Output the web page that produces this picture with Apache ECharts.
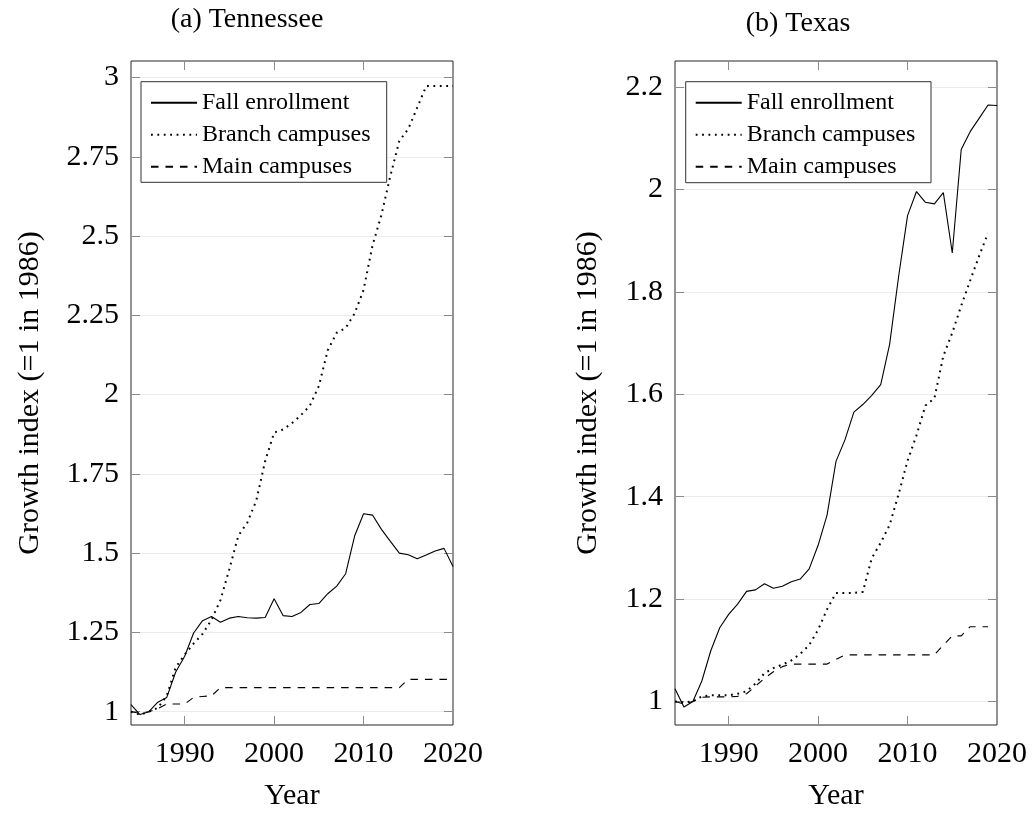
<!DOCTYPE html>
<html>
<head>
<meta charset="utf-8">
<script src="https://cdn.jsdelivr.net/npm/echarts@6/dist/echarts.min.js"></script>
<style>
html,body{margin:0;padding:0;background:#fff;}
#chart{width:1032px;height:816px;}
</style>
</head>
<body>
<div id="chart"></div>
<script>
const years = [1984,1985,1986,1987,1988,1989,1990,1991,1992,1993,1994,1995,1996,1997,1998,1999,2000,2001,2002,2003,2004,2005,2006,2007,2008,2009,2010,2011,2012,2013,2014,2015,2016,2017,2018,2019,2020];

const seriesNames = ['Fall enrollment', 'Branch campuses', 'Main campuses'];
const panelTitles = ['(a) Tennessee', '(b) Texas'];
const xAxisTitle = 'Year';
const yAxisTitle = 'Growth index (=1 in 1986)';

const tnFall   = [1.022,0.991,1.0,1.030,1.045,1.125,1.175,1.248,1.287,1.300,1.282,1.295,1.300,1.296,1.295,1.297,1.356,1.303,1.300,1.313,1.338,1.341,1.372,1.396,1.435,1.554,1.624,1.620,1.575,1.537,1.500,1.495,1.482,1.494,1.507,1.515,1.458];
const tnBranch = [1.0,0.99,1.0,1.012,1.05,1.14,1.18,1.215,1.245,1.29,1.352,1.45,1.555,1.596,1.665,1.79,1.88,1.89,1.91,1.935,1.965,2.027,2.14,2.195,2.21,2.256,2.33,2.47,2.567,2.69,2.80,2.838,2.905,2.973,2.973,2.973,2.973];
const tnMain   = [1.0,0.995,1.0,1.01,1.024,1.024,1.024,1.045,1.048,1.05,1.076,1.076,1.076,1.076,1.076,1.076,1.076,1.076,1.076,1.076,1.076,1.076,1.076,1.076,1.076,1.076,1.076,1.076,1.076,1.076,1.076,1.102,1.102,1.102,1.102,1.102,1.102];

const txFall   = [1.025,0.989,1.0,1.04,1.099,1.144,1.17,1.19,1.215,1.218,1.23,1.221,1.225,1.234,1.239,1.259,1.305,1.364,1.469,1.511,1.565,1.580,1.598,1.619,1.698,1.83,1.949,1.996,1.975,1.972,1.994,1.876,2.078,2.113,2.139,2.165,2.164];
const txBranch = [1.0,0.998,1.0,1.01,1.012,1.012,1.012,1.015,1.02,1.035,1.055,1.065,1.072,1.08,1.093,1.11,1.14,1.18,1.212,1.212,1.212,1.214,1.28,1.31,1.345,1.405,1.47,1.52,1.578,1.592,1.675,1.72,1.773,1.822,1.87,1.915,null];
const txMain   = [1.0,0.995,1.0,1.008,1.009,1.009,1.009,1.01,1.015,1.03,1.045,1.058,1.068,1.073,1.073,1.073,1.073,1.073,1.082,1.091,1.091,1.091,1.091,1.091,1.091,1.091,1.091,1.091,1.091,1.091,1.11,1.128,1.128,1.146,1.146,1.146,null];

const xTicks  = [1990,2000,2010,2020];
const tnTicks = [1,1.25,1.5,1.75,2,2.25,2.5,2.75,3];
const txTicks = [1,1.2,1.4,1.6,1.8,2,2.2];

const FONT = '"Liberation Serif", "Times New Roman", serif';
const pair = arr => years.map((y,i) => [y, arr[i]]);

const grids = [
  {left:131, top:61, width:322, height:672},
  {left:675, top:61, width:322, height:672}
];
const yRanges = [[0.958,3.052],[0.954,2.251]];
const yTickSets = [tnTicks, txTicks];
const yNameGaps = [86, 72];

const tickStyle = {show:true, inside:true, length:9, lineStyle:{color:'#8c8c8c', width:1}};

const xAxes = [], yAxes = [];
grids.forEach((g, gi) => {
  xAxes.push({
    gridIndex: gi, type:'value', min:1984, max:2020, position:'bottom',
    axisLine:{show:false},
    axisTick:Object.assign({customValues:xTicks}, tickStyle),
    axisLabel:{customValues:xTicks, formatter:v=>String(v), fontSize:30, fontFamily:FONT, color:'#000', margin:14, lineHeight:30},
    splitLine:{show:false},
    name:xAxisTitle, nameLocation:'middle', nameGap:56,
    nameTextStyle:{fontSize:30, fontFamily:FONT, color:'#000', lineHeight:30}
  });
  xAxes.push({
    gridIndex: gi, type:'value', min:1984, max:2020, position:'top',
    axisLine:{show:false},
    axisTick:Object.assign({customValues:xTicks}, tickStyle),
    axisLabel:{show:false}, splitLine:{show:false}
  });
  const yt = yTickSets[gi];
  yAxes.push({
    gridIndex: gi, type:'value', min:yRanges[gi][0], max:yRanges[gi][1], position:'left',
    axisLine:{show:false},
    axisTick:Object.assign({customValues:yt}, tickStyle),
    axisLabel:{customValues:yt, formatter:v=>String(v), fontSize:30, fontFamily:FONT, color:'#000', margin:12},
    splitLine:{show:true, lineStyle:{color:'#ebebeb', width:1}},
    name:yAxisTitle, nameLocation:'middle', nameGap:yNameGaps[gi], nameRotate:90,
    nameTextStyle:{fontSize:30, fontFamily:FONT, color:'#000', lineHeight:30}
  });
  yAxes.push({
    gridIndex: gi, type:'value', min:yRanges[gi][0], max:yRanges[gi][1], position:'right',
    axisLine:{show:false},
    axisTick:Object.assign({customValues:yt}, tickStyle),
    axisLabel:{show:false}, splitLine:{show:false}
  });
});

const styles = [
  {color:'#000', width:1.1, type:'solid'},
  {color:'#000', width:2, type:[1.8,4.6], cap:'butt'},
  {color:'#000', width:1.1, type:[7.5,7]}
];

const panelData = [[tnFall, tnBranch, tnMain],[txFall, txBranch, txMain]];
const series = [];
panelData.forEach((set, gi) => {
  set.forEach((arr, si) => {
    series.push({
      name: seriesNames[si], type:'line', xAxisIndex: gi*2, yAxisIndex: gi*2,
      data: pair(arr), showSymbol:false, symbol:'none', lineStyle: styles[si],
      itemStyle:{color:'#000'},
      z: 2, animation:false
    });
  });
});

const legendBoxes = [
  {x:141, y:81.7, w:245.7, h:100.6},
  {x:685.7, y:81.7, w:245.3, h:101}
];

const legends = legendBoxes.map(b => ({
  show:true, orient:'vertical', left:b.x+9, top:b.y+9, padding:0,
  itemWidth:46, itemHeight:14, itemGap:8, selectedMode:false,
  data: seriesNames.slice(),
  itemStyle:{color:'rgba(0,0,0,0)', borderColor:'rgba(0,0,0,0)', borderWidth:0},
  textStyle:{fontSize:24, fontFamily:FONT, color:'#000', lineHeight:22},
  z: 10
}));

const chart = echarts.init(document.getElementById('chart'), null, {renderer:'canvas'});
chart.setOption({
  animation:false,
  backgroundColor:'#fff',
  grid: grids.map(g => Object.assign({show:true, borderColor:'#262626', borderWidth:1, backgroundColor:'transparent', containLabel:false}, g)),
  xAxis: xAxes,
  yAxis: yAxes,
  legend: legends,
  series: series,
  graphic: [
    {type:'text', x:247, y:20, z:5, style:{text:panelTitles[0], font:'28px ' + FONT, textAlign:'center', textVerticalAlign:'middle', fill:'#000'}},
    {type:'text', x:798, y:24, z:5, style:{text:panelTitles[1], font:'28px ' + FONT, textAlign:'center', textVerticalAlign:'middle', fill:'#000'}},
    ...legendBoxes.map(b => ({type:'rect', z:6, shape:{x:b.x, y:b.y, width:b.w, height:b.h}, style:{fill:'#fff', stroke:'#333', lineWidth:1}}))
  ]
});
</script>
</body>
</html>
